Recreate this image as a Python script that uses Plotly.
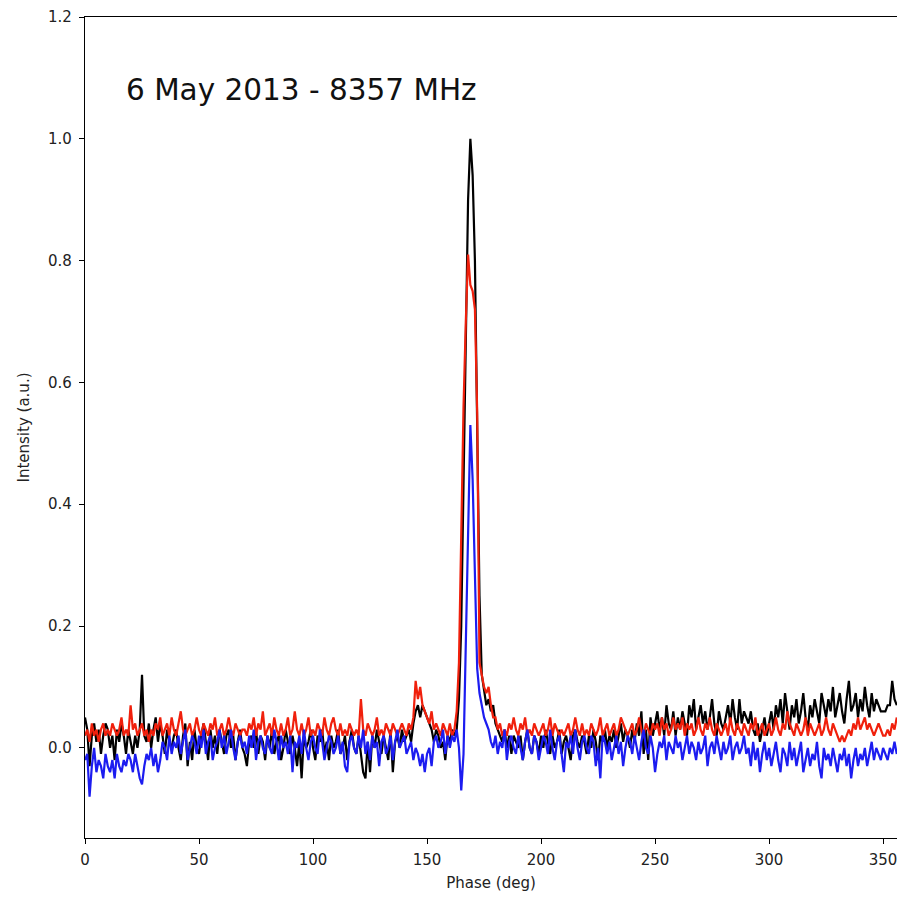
import plotly.graph_objects as go

# Pulse phase (deg), one sample per degree
phase = list(range(0, 357))

# Intensity values in units of 0.01 a.u.
total_I = [
    5, 3, -3, 2, 4, 1, 3, -1, 2, 4,
    3, 0, 2, -2, 3, 1, 4, 2, -1, 3,
    1, -1, 2, 0, 3, 12, 2, 1, 4, 0,
    3, 5, 1, 4, 2, -1, 3, 1, 0, 2,
    3, 0, -2, 2, 4, -3, 1, -2, 3, 0,
    -1, 2, 4, 1, -2, 3, 0, 2, -1, 3,
    1, -1, 2, 3, 0, 2, -2, 1, 3, 0,
    -1, -3, 1, 2, 0, 3, -1, 2, 1, -2,
    2, 0, 3, -1, 1, 2, -2, 0, 3, 1,
    -1, 2, 0, -3, 1, -5, 2, 0, 1, 3,
    0, -2, 2, 1, 3, -1, 1, -2, 2, 0,
    1, 3, -1, 0, 2, -2, 1, 3, 0, -1,
    2, -1, -4, -5, 1, -4, 2, 0, 3, 1,
    -1, 2, 0, -2, 3, -4, 1, 2, 0, 3,
    1, 2, 3, 1, 4, 6, 7, 5, 7, 6,
    5, 4, 3, 1, 3, 2, 0, 1, -2, 2,
    1, 3, 2, 3, 8, 20, 45, 70, 90, 100,
    94, 80, 55, 25, 12, 9, 7, 8, 6, 7,
    4, 3, 2, 1, 3, 0, 2, -1, 2, 1,
    0, 2, -2, 1, 3, 0, -1, 2, 1, -1,
    2, 0, 3, 1, -1, 2, 0, 1, 3, -1,
    1, 2, 0, -2, 2, 3, 1, 0, 2, 1,
    -1, 2, 0, 3, 1, -2, 2, 1, 3, 0,
    2, 1, 3, 0, 2, 4, 1, 3, 2, 0,
    3, 1, 4, 2, 6, -1, 3, -2, 5, 2,
    4, 6, 3, 5, 2, 7, 4, 3, 6, 2,
    5, 3, 6, 4, 2, 7, 5, 8, 3, 5,
    7, 4, 6, 3, 5, 8, 4, 2, 6, 4,
    3, 5, 7, 4, 8, 5, 3, 8, 4, 6,
    5, 4, 6, 3, 2, 4, 1, 3, 5, 2,
    4, 6, 3, 7, 5, 8, 4, 9, 6, 3,
    7, 5, 8, 4, 6, 9, 5, 3, 7, 5,
    8, 6, 4, 9, 7, 5, 8, 6, 10, 5,
    7, 9, 6, 4, 8, 11, 6, 7, 9, 5,
    8, 6, 10, 7, 5, 9, 6, 8, 7, 6,
    6, 6, 7, 7, 11, 8, 7,
]

linear_L = [
    2, 3, 1, 4, 2, 3, 1, 3, 4, 2,
    3, 2, 4, 3, 2, 3, 5, 2, 3, 2,
    7, 3, 4, 2, 3, 4, 2, 3, 1, 3,
    2, 4, 3, 5, 2, 3, 4, 2, 5, 3,
    2, 4, 6, 3, 2, 3, 4, 2, 3, 5,
    3, 2, 4, 3, 2, 4, 3, 5, 2, 3,
    4, 2, 3, 5, 3, 2, 4, 3, 2, 3,
    3, 2, 4, 3, 5, 2, 4, 3, 6, 2,
    3, 4, 2, 5, 3, 2, 4, 2, 3, 5,
    2, 3, 6, 3, 2, 4, 2, 3, 5, 2,
    3, 2, 4, 3, 2, 5, 3, 2, 4, 5,
    3, 2, 4, 2, 3, 2, 4, 3, 2, 3,
    2, 8, 3, 2, 4, 3, 2, 3, 5, 2,
    3, 2, 4, 3, 2, 4, 3, 2, 3, 4,
    3, 2, 4, 3, 5, 11, 8, 10, 7, 6,
    5, 4, 6, 3, 4, 3, 2, 4, 3, 2,
    4, 2, 3, 6, 14, 35, 56, 70, 81, 76,
    75, 72, 55, 14, 12, 10, 9, 10, 7, 5,
    5, 3, 4, 2, 3, 2, 4, 3, 5, 3,
    2, 4, 3, 5, 2, 3, 2, 4, 3, 2,
    3, 4, 2, 3, 5, 2, 4, 3, 2, 3,
    2, 3, 4, 2, 3, 5, 3, 2, 4, 2,
    3, 2, 4, 3, 2, 3, 5, 2, 3, 4,
    2, 3, 4, 2, 3, 5, 4, 3, 2, 3,
    4, 2, 3, 5, 3, 2, 4, 3, 2, 4,
    3, 4, 2, 5, 3, 4, 2, 3, 5, 3,
    4, 3, 5, 2, 4, 3, 4, 2, 3, 5,
    3, 2, 4, 3, 5, 3, 2, 4, 3, 2,
    3, 4, 2, 5, 3, 2, 4, 3, 2, 4,
    3, 2, 4, 3, 5, 2, 3, 4, 2, 3,
    4, 2, 3, 5, 3, 2, 4, 3, 6, 4,
    3, 2, 4, 3, 2, 3, 5, 2, 4, 3,
    2, 3, 4, 2, 3, 5, 3, 2, 4, 3,
    2, 1, 2, 1, 2, 3, 2, 4, 3, 5,
    3, 4, 5, 3, 4, 3, 2, 3, 4, 3,
    2, 2, 3, 2, 4, 3, 5,
]

circular_V = [
    -2, -1, -8, -3, 0, -4, -2, -3, -5, -1,
    -3, -4, -2, -5, -1, -3, -4, -2, -3, -1,
    -2, -4, -1, -3, -5, -6, -3, -1, -2, 0,
    -3, -1, -4, -2, 1, 0, -2, 2, -1, 1,
    0, 2, -1, 1, 3, -2, 0, 2, 1, -1,
    2, 0, 3, -1, 1, 2, -2, 0, 1, 3,
    0, 2, -1, 1, 3, 0, -2, 1, 2, 0,
    1, -1, 2, 0, 3, -2, 1, 2, 0, -1,
    2, 0, -1, 3, 1, -2, 2, 0, 1, -1,
    2, -4, 1, 0, 2, -1, 3, 0, -2, 1,
    2, 0, -1, 3, 1, -2, 0, 2, 1, -1,
    0, 2, -1, 1, -3, -4, 1, 2, 0, -1,
    2, 0, 3, -1, 1, -2, 2, 0, 1, -3,
    1, 2, -1, 0, 2, -2, 1, 3, 0, 1,
    2, -1, 0, 1, -2, 0, -1, -3, -1, -4,
    -1, 0, -3, 1, 2, 0, 1, 3, -1, 2,
    0, 2, 1, 3, 0, -7, -1, 18, 40, 53,
    44, 27, 13, 9, 7, 5, 4, 3, 1, 0,
    2, -1, 1, 0, 3, -2, 1, 2, 0, -1,
    2, 0, -2, 1, 3, 0, -1, 2, 1, -2,
    0, 2, 1, -1, 3, 0, -2, 1, 2, -1,
    -4, 1, 0, 2, -1, 3, 0, -2, 1, 2,
    0, -1, 2, 1, -3, 0, -5, 2, 1, -1,
    1, -2, 0, 2, -1, 1, -3, 0, 2, 1,
    -1, 2, 0, -2, 1, 3, 0, -1, 2, 0,
    -4, -1, 1, 0, 2, -2, 1, 0, -1, 2,
    0, 1, -2, 0, 2, -1, 1, 0, -2, 1,
    -1, 0, 2, -3, 0, 1, -1, 2, 0, -2,
    1, -1, 0, 2, -2, 0, 1, -1, 0, 2,
    -1, 0, -3, 1, -2, 0, -4, -1, 1, -2,
    0, -3, -1, 1, -2, -4, 0, -1, -3, 1,
    -2, 0, -3, -1, 1, -4, -2, 0, -3, -1,
    -2, 1, -3, -5, 0, -2, -1, -3, 0, -2,
    -4, -1, -2, 0, -3, -1, -5, -2, 0, -3,
    -1, -2, 0, -3, -1, 1, -2, 0, -1, -2,
    0, -1, -2, 0, -1, 1, -1,
]

series_names = ["I", "L", "V"]
series_colors = ["#000000", "#f0200c", "#1c1cf0"]
y_tick_vals = [0.0, 0.2, 0.4, 0.6, 0.8, 1.0, 1.2]
x_tick_vals = [0, 50, 100, 150, 200, 250, 300, 350]
label_text = "6 May 2013 - 8357 MHz"

fig = go.Figure()
for name, vals, col in zip(series_names, [total_I, linear_L, circular_V], series_colors):
    fig.add_trace(go.Scatter(
        x=phase, y=[v / 100 for v in vals], mode="lines", name=name,
        line=dict(color=col, width=2.2), showlegend=False,
    ))

font_family = "DejaVu Sans"
fig.update_layout(
    width=897, height=898,
    margin=dict(l=85, r=0, t=17, b=60),
    paper_bgcolor="white", plot_bgcolor="white",
    font=dict(family=font_family, size=15, color="#222"),
    annotations=[dict(
        x=17.3, y=1.08, xref="x", yref="y", text=label_text, showarrow=False,
        xanchor="left", yanchor="middle",
        font=dict(family=font_family, size=29.5, color="#111"),
    )],
)
fig.update_xaxes(
    range=[0, 356.1], tickvals=x_tick_vals, ticks="outside", ticklen=5,
    tickcolor="black", showline=True, linecolor="black", linewidth=1.2,
    mirror=True, showgrid=False, zeroline=False,
    title=dict(text="Phase (deg)", font=dict(size=15), standoff=9),
    tickfont=dict(size=15), ticklabelstandoff=3, ticklabeloverflow="allow",
)
fig.update_yaxes(
    range=[-0.148, 1.2], tickvals=y_tick_vals, tickformat=".1f",
    ticks="outside", ticklen=5, tickcolor="black", showline=True,
    linecolor="black", linewidth=1.2, mirror=False, showgrid=False,
    zeroline=False, title=dict(text="Intensity (a.u.)", font=dict(size=15), standoff=14),
    tickfont=dict(size=15), ticklabelstandoff=4,
)

fig.write_html("out.html")
